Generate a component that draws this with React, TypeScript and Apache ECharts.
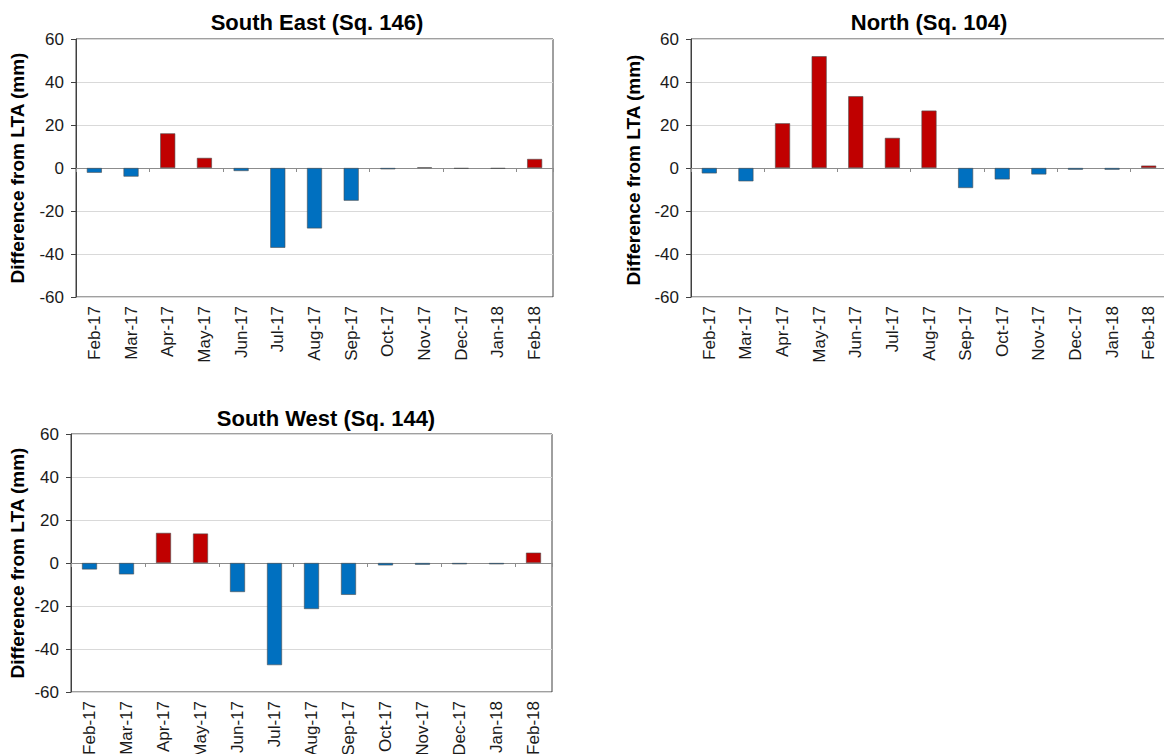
import React, { useEffect, useRef } from "react";
import * as echarts from "echarts";

// Monthly rainfall difference from long-term average (mm)
const months = [
  "Feb-17", "Mar-17", "Apr-17", "May-17", "Jun-17", "Jul-17", "Aug-17",
  "Sep-17", "Oct-17", "Nov-17", "Dec-17", "Jan-18", "Feb-18",
];
const southEast = [-2.2, -4.0, 16.1, 4.7, -1.4, -37.1, -28.1, -15.2, -0.6, 0.3, -0.3, -0.3, 4.2];
const north = [-2.5, -6.2, 20.8, 52.0, 33.4, 14.0, 26.7, -9.3, -5.3, -3.0, -0.8, -0.8, 1.1];
const southWest = [-3.0, -5.3, 14.0, 13.7, -13.5, -47.5, -21.4, -14.8, -1.1, -0.8, -0.6, -0.6, 4.8];

const yMin = -60;
const yMax = 60;
const yStep = 20;

const titles = ["South East (Sq. 146)", "North (Sq. 104)", "South West (Sq. 144)"];
const axisName = "Difference from LTA (mm)";

const FONT = "Liberation Sans, Arial, sans-serif";
const RED = "#C00000";
const BLUE = "#0070C0";

const panels = [
  { values: southEast, grid: { left: 76, right: 611, top: 39, height: 258 }, titleAt: [317, 22], nameAt: [17, 168] },
  { values: north, grid: { left: 691, right: -3, top: 39, height: 258 }, titleAt: [929, 22], nameAt: [633, 170] },
  { values: southWest, grid: { left: 71, right: 612, top: 434, height: 258 }, titleAt: [326, 418], nameAt: [17, 563] },
];

export default function App() {
  const ref = useRef<HTMLDivElement>(null);

  useEffect(() => {
    if (!ref.current) return;
    const chart = echarts.init(ref.current, undefined, { renderer: "svg" });

    const grids: any[] = [];
    const xAxes: any[] = [];
    const yAxes: any[] = [];
    const series: any[] = [];
    const graphics: any[] = [];

    panels.forEach((p, i) => {
      grids.push({
        ...p.grid,
        show: true,
        borderColor: "#404040",
        borderWidth: 1,
        containLabel: false,
        outerBoundsMode: "none",
      });

      // category labels along the bottom of the frame
      xAxes.push({
        type: "category",
        gridIndex: i,
        data: months,
        position: "bottom",
        axisLine: { show: false, onZero: false },
        axisTick: { show: false },
        splitLine: { show: false },
        axisLabel: {
          rotate: 90,
          interval: 0,
          margin: 9,
          fontSize: 17,
          fontFamily: FONT,
          color: "#1a1a1a",
        },
      });
      // zero baseline with category separators
      xAxes.push({
        type: "category",
        gridIndex: i,
        data: months,
        position: "bottom",
        axisLine: { show: true, onZero: true, lineStyle: { color: "#8c8c8c", width: 1 } },
        axisTick: { show: true, length: 4, lineStyle: { color: "#8c8c8c" } },
        axisLabel: { show: false },
        splitLine: { show: false },
      });

      yAxes.push({
        type: "value",
        gridIndex: i,
        min: yMin,
        max: yMax,
        interval: yStep,
        axisLine: { show: true, lineStyle: { color: "#404040" } },
        axisTick: { show: true, length: 5, lineStyle: { color: "#404040" } },
        axisLabel: { fontSize: 17, fontFamily: FONT, color: "#1a1a1a", margin: 12 },
        splitLine: { show: true, lineStyle: { color: "#d9d9d9", width: 1 } },
      });

      series.push({
        type: "bar",
        xAxisIndex: i * 2,
        yAxisIndex: i,
        data: p.values,
        barWidth: 15,
        itemStyle: {
          color: (d: any) => (d.value >= 0 ? RED : BLUE),
          borderColor: "#4d4d4d",
          borderWidth: 0.6,
        },
      });

      graphics.push({
        type: "text",
        x: p.titleAt[0],
        y: p.titleAt[1],
        style: {
          text: titles[i],
          fontSize: 22,
          fontWeight: "bold",
          fontFamily: FONT,
          fill: "#000",
          textAlign: "center",
          textVerticalAlign: "middle",
        },
      });
      graphics.push({
        type: "text",
        x: p.nameAt[0],
        y: p.nameAt[1],
        rotation: Math.PI / 2,
        style: {
          text: axisName,
          fontSize: 19,
          fontWeight: "bold",
          fontFamily: FONT,
          fill: "#000",
          textAlign: "center",
          textVerticalAlign: "middle",
        },
      });
    });

    chart.setOption({
      animation: false,
      backgroundColor: "#fff",
      grid: grids,
      xAxis: xAxes,
      yAxis: yAxes,
      series,
      graphic: graphics,
    });

    return () => chart.dispose();
  }, []);

  return (
    <div
      ref={ref}
      style={{ position: "fixed", left: 0, top: 0, width: 1164, height: 754, background: "#fff" }}
    />
  );
}
